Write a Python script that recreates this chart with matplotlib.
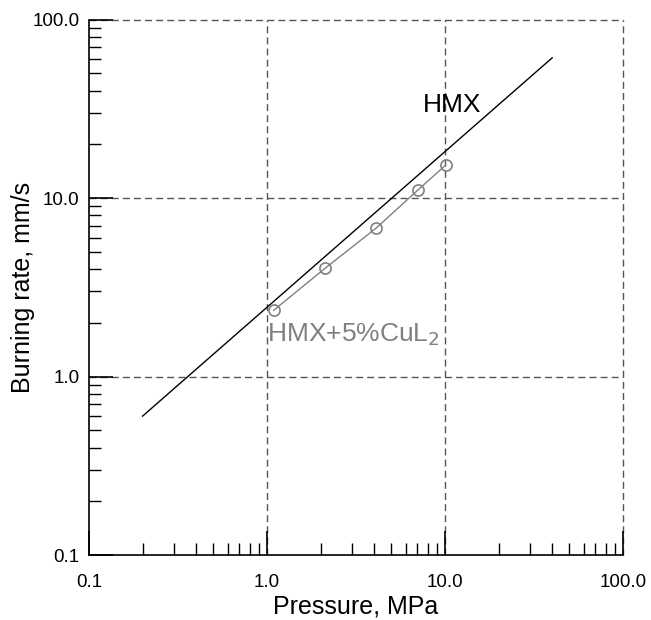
import matplotlib
matplotlib.use("Agg")
import matplotlib.pyplot as plt
from matplotlib.ticker import FixedLocator, FixedFormatter, LogLocator, NullFormatter

plt.rcParams['font.family'] = ['Liberation Sans', 'DejaVu Sans']

# Burning-rate data (pressure in MPa, rate in mm/s)
hmx_pressure = [0.2, 40.0]
hmx_rate = [0.6, 61.0]

cul2_pressure = [1.09, 2.12, 4.1, 7.05, 10.1]
cul2_rate = [2.35, 4.04, 6.78, 11.1, 15.3]

decade_ticks = [0.1, 1.0, 10.0, 100.0]
decade_labels = ["0.1", "1.0", "10.0", "100.0"]
grid_values = [1.0, 10.0, 100.0]

fig = plt.figure(figsize=(6.51, 6.20), dpi=100)
ax = fig.add_axes([0.1367, 0.1048, 0.8203, 0.8637])

ax.set_xscale("log")
ax.set_yscale("log")
ax.set_xlim(0.1, 100)
ax.set_ylim(0.1, 100)

# dashed decade grid, drawn unclipped so the outer lines show fully
for v in grid_values:
    ax.axvline(v, color="#555555", lw=1.0, dashes=(5, 3), clip_on=False, zorder=1)
    ax.axhline(v, color="#555555", lw=1.0, dashes=(5, 3), clip_on=False, zorder=1)

ax.plot(hmx_pressure, hmx_rate, color="black", lw=1.0, zorder=3)
ax.plot(cul2_pressure, cul2_rate, color="#808080", lw=1.0, marker="o",
        markersize=8, markerfacecolor="none", markeredgecolor="#808080",
        markeredgewidth=1.2, zorder=4)

ax.text(10.9, 33.0, "HMX", fontsize=19, color="black", ha="center", va="center")
ax.text(1.0, 1.72, "HMX+5%CuL$_2$", fontsize=19, color="#808080",
        ha="left", va="center")

for side in ("top", "right"):
    ax.spines[side].set_visible(False)
for side in ("left", "bottom"):
    ax.spines[side].set_linewidth(1.2)

for axis in (ax.xaxis, ax.yaxis):
    axis.set_major_locator(FixedLocator(decade_ticks))
    axis.set_major_formatter(FixedFormatter(decade_labels))
    axis.set_minor_locator(LogLocator(base=10, subs=range(2, 10)))
    axis.set_minor_formatter(NullFormatter())

ax.tick_params(which="major", direction="in", length=17, width=1.2,
               labelsize=13.5, pad=7)
ax.tick_params(which="minor", direction="in", length=8.5, width=1.0)
ax.tick_params(axis="x", which="major", pad=14)

ax.set_xlabel("Pressure, MPa", fontsize=18, labelpad=2)
ax.set_ylabel("Burning rate, mm/s", fontsize=18, labelpad=-2)

fig.savefig("out.png", dpi=100)
